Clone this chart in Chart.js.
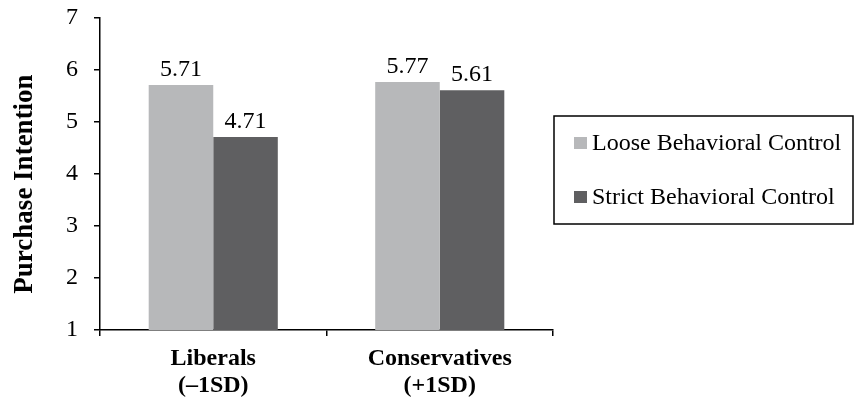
<!DOCTYPE html>
<html>
<head>
<meta charset="utf-8">
<script src="https://cdn.jsdelivr.net/npm/chart.js@4"></script>
<style>
  html, body { margin: 0; padding: 0; background: #fff; }
  #wrap { width: 855px; height: 402px; position: relative; }
</style>
</head>
<body>
<div id="wrap"><canvas id="c" width="855" height="402"></canvas></div>
<script>
const categories = [["Liberals", "(\u20131SD)"], ["Conservatives", "(+1SD)"]];
const seriesNames = ["Loose Behavioral Control", "Strict Behavioral Control"];
const looseValues = [5.71, 5.77];
const strictValues = [4.71, 5.61];
const yTicks = [1, 2, 3, 4, 5, 6, 7];
const yTitle = "Purchase Intention";

const serif = "'Liberation Serif', 'Times New Roman', serif";
const colors = ["#b7b8ba", "#5f5f61"];

// Value labels above each bar
const valueLabels = {
  id: "valueLabels",
  afterDatasetsDraw(chart) {
    const ctx = chart.ctx;
    ctx.save();
    ctx.font = "24px " + serif;
    ctx.fillStyle = "#000";
    ctx.textAlign = "center";
    ctx.textBaseline = "alphabetic";
    chart.data.datasets.forEach((ds, di) => {
      const meta = chart.getDatasetMeta(di);
      meta.data.forEach((bar, i) => {
        ctx.fillText(ds.data[i].toFixed(2), bar.x, bar.y - 9);
      });
    });
    ctx.restore();
  }
};

// Rotated axis title beside the value axis
const axisTitle = {
  id: "axisTitle",
  afterDraw(chart) {
    const ctx = chart.ctx;
    ctx.save();
    ctx.font = "bold 27px " + serif;
    ctx.fillStyle = "#000";
    ctx.textAlign = "center";
    ctx.textBaseline = "middle";
    ctx.translate(25, 184);
    ctx.rotate(-Math.PI / 2);
    ctx.fillText(yTitle, 0, 0);
    ctx.restore();
  }
};

// Boxed legend on the right
const boxLegend = {
  id: "boxLegend",
  afterDraw(chart) {
    const ctx = chart.ctx;
    ctx.save();
    ctx.strokeStyle = "#000";
    ctx.lineWidth = 1.5;
    ctx.strokeRect(554, 116, 299, 108);
    ctx.font = "24px " + serif;
    ctx.textBaseline = "middle";
    ctx.textAlign = "left";
    const rows = [143, 197];
    chart.data.datasets.forEach((ds, di) => {
      const cy = rows[di];
      ctx.fillStyle = ds.backgroundColor;
      ctx.fillRect(574, cy - 6, 13, 12);
      ctx.fillStyle = "#000";
      ctx.fillText(ds.label, 592, cy + 1);
    });
    ctx.restore();
  }
};

new Chart(document.getElementById("c"), {
  type: "bar",
  data: {
    labels: categories,
    datasets: [
      { label: seriesNames[0], data: looseValues, backgroundColor: colors[0] },
      { label: seriesNames[1], data: strictValues, backgroundColor: colors[1] }
    ]
  },
  options: {
    responsive: false,
    animation: false,
    devicePixelRatio: 1,
    layout: { padding: { left: 0, right: 302, top: 18, bottom: 0 } },
    datasets: { bar: { categoryPercentage: 0.57, barPercentage: 1.0 } },
    plugins: { legend: { display: false }, tooltip: { enabled: false } },
    scales: {
      x: {
        afterFit(scale) { scale.height = 72; scale.paddingLeft = 0; scale.paddingRight = 0; },
        border: { color: "#000", width: 1.5 },
        grid: { offset: true, drawOnChartArea: false, drawTicks: true, tickLength: 6, color: "#000", lineWidth: 1.5 },
        ticks: { color: "#000", font: { family: serif, size: 24, weight: "bold", lineHeight: 1.1 }, padding: 10, maxRotation: 0 }
      },
      y: {
        min: 1, max: 7,
        afterFit(scale) { scale.width = 100; scale.paddingTop = 0; scale.paddingBottom = 0; },
        afterBuildTicks(scale) { scale.ticks = yTicks.map(v => ({ value: v })); },
        border: { color: "#000", width: 1.5 },
        grid: { drawOnChartArea: false, drawTicks: true, tickLength: 6, color: "#000", lineWidth: 1.5 },
        ticks: { color: "#000", font: { family: serif, size: 24 }, padding: 16 }
      }
    }
  },
  plugins: [valueLabels, axisTitle, boxLegend]
});
</script>
</body>
</html>
